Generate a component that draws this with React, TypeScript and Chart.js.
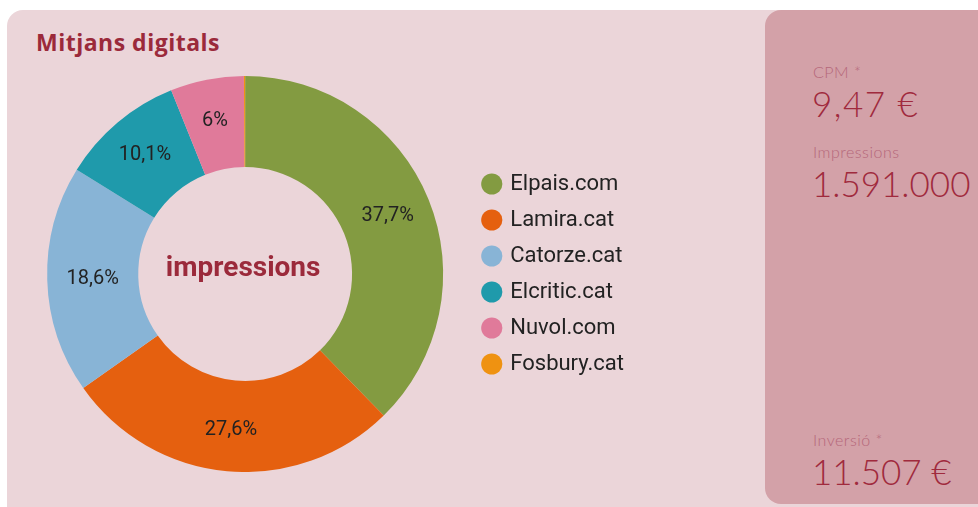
import React, { useEffect, useRef } from "react";
import { Chart, registerables } from "chart.js";

Chart.register(...registerables);

const categories = ["Elpais.com", "Lamira.cat", "Catorze.cat", "Elcritic.cat", "Nuvol.com", "Fosbury.cat"];
const shares = [37.7, 27.6, 18.6, 10.1, 6.0, 0.1];
const shareLabels = ["37,7%", "27,6%", "18,6%", "10,1%", "6%", ""];
const colors = ["#839b41", "#e5600f", "#88b4d6", "#1f9aab", "#e07a9a", "#ef9211"];
const centerLabel = "impressions";
const title = "Mitjans digitals";
const kpiLabels = ["CPM *", "Impressions", "Inversió *"];
const kpiValues = ["9,47 €", "1.591.000", "11.507 €"];

const labelPlugin = {
  id: "sliceLabels",
  afterDatasetsDraw(chart: any) {
    const ctx = chart.ctx;
    const meta = chart.getDatasetMeta(0);
    ctx.save();
    ctx.font = "20px Roboto";
    ctx.fillStyle = "#222222";
    ctx.textAlign = "center";
    ctx.textBaseline = "middle";
    meta.data.forEach((arc: any, i: number) => {
      const t = shareLabels[i];
      if (!t) return;
      const { x, y, startAngle, endAngle, innerRadius, outerRadius } = arc.getProps(
        ["x", "y", "startAngle", "endAngle", "innerRadius", "outerRadius"],
        true
      );
      const a = (startAngle + endAngle) / 2;
      const r = (innerRadius + outerRadius) / 2 + 4 * Math.abs(Math.sin(a));
      ctx.fillText(t, x + Math.cos(a) * r, y + Math.sin(a) * r);
    });
    const a0 = meta.data[0];
    ctx.font = "bold 28px Roboto";
    ctx.fillStyle = "#9b2a3b";
    ctx.fillText(centerLabel, a0.x - 2, a0.y - 5);
    ctx.restore();
  },
};

export default function App() {
  const ref = useRef<HTMLCanvasElement>(null);
  useEffect(() => {
    if (!ref.current) return;
    const chart = new Chart(ref.current, {
      type: "doughnut",
      data: {
        labels: categories,
        datasets: [
          {
            data: shares,
            backgroundColor: colors,
            borderWidth: 0,
          },
        ],
      },
      options: {
        animation: false,
        responsive: false,
        cutout: "54%",
        layout: { padding: 0 },
        plugins: {
          tooltip: { enabled: false },
          legend: {
            position: "right",
            align: "center",
            labels: {
              usePointStyle: true,
              pointStyle: "circle",
              boxWidth: 15,
              boxHeight: 15,
              padding: 14,
              color: "#222222",
              font: { family: "Roboto", size: 22 },
            },
          },
        },
      },
      plugins: [labelPlugin],
    });
    return () => chart.destroy();
  }, []);

  const kpiLabelStyle: React.CSSProperties = {
    position: "absolute",
    left: 48,
    fontFamily: "Lato, 'Open Sans', sans-serif",
    fontWeight: 300,
    fontSize: 16,
    color: "#b5677a",
    letterSpacing: 0.5,
    lineHeight: "20px",
    whiteSpace: "nowrap",
  };
  const kpiValueStyle: React.CSSProperties = {
    position: "absolute",
    left: 47,
    fontFamily: "Lato, 'Open Sans', sans-serif",
    fontWeight: 300,
    fontSize: 35,
    color: "#a02a3d",
    lineHeight: "40px",
    whiteSpace: "nowrap",
  };

  return (
    <div style={{ position: "fixed", left: 0, top: 0, width: 978, height: 507, overflow: "hidden", background: "#ffffff" }}>
      <div
        style={{
          position: "absolute",
          left: 7,
          top: 10,
          width: 1000,
          height: 520,
          borderRadius: 16,
          background: "#ebd5d9",
        }}
      />
      <div
        style={{
          position: "absolute",
          left: 36,
          top: 27,
          fontFamily: "'Open Sans', Lato, sans-serif",
          fontWeight: 700,
          fontSize: 23,
          letterSpacing: 0.5,
          color: "#9b2a3b",
          lineHeight: "30px",
          whiteSpace: "nowrap",
        }}
      >
        {title}
      </div>
      <canvas ref={ref} width={614} height={396} style={{ position: "absolute", left: 20, top: 76 }} />
      <div
        style={{
          position: "absolute",
          left: 765,
          top: 10,
          width: 240,
          height: 494,
          borderRadius: 16,
          background: "#d3a1a8",
        }}
      >
        <div style={{ ...kpiLabelStyle, top: 52 }}>{kpiLabels[0]}</div>
        <div style={{ ...kpiValueStyle, top: 73, letterSpacing: 1.5 }}>{kpiValues[0]}</div>
        <div style={{ ...kpiLabelStyle, top: 132 }}>{kpiLabels[1]}</div>
        <div style={{ ...kpiValueStyle, top: 153 }}>{kpiValues[1]}</div>
        <div style={{ ...kpiLabelStyle, top: 420 }}>{kpiLabels[2]}</div>
        <div style={{ ...kpiValueStyle, top: 441 }}>{kpiValues[2]}</div>
      </div>
    </div>
  );
}
